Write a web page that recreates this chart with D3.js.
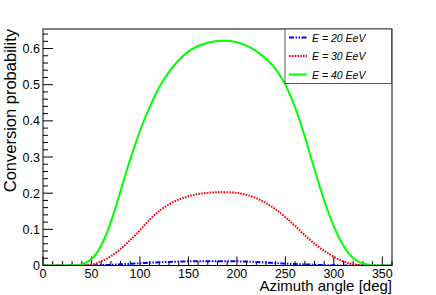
<!DOCTYPE html>
<html lang="en">
<head>
<meta charset="UTF-8">
<title>Conversion probability</title>
<script src="https://d3js.org/d3.v7.min.js"></script>
<style>
    body { margin: 0; background: #ffffff; }
    svg { display: block; font-family: "Liberation Sans", Arial, sans-serif; }
</style>
</head>
<body>
<div id="chart"></div>
<script>
    // azimuth angle samples (deg)
    const angles = d3.range(0, 361, 10);

    // conversion probability, one value per angle
    const e20 = [0, 0, 0, 0, 0, 0.0005, 0.001, 0.002, 0.003, 0.005, 0.006, 0.008, 0.009, 0.010, 0.011, 0.0115, 0.012, 0.012, 0.012,
                 0.012, 0.0115, 0.011, 0.010, 0.008, 0.007, 0.005, 0.004, 0.003, 0.002, 0.001, 0.0005, 0.0002, 0, 0, 0, 0, 0];
    const e30 = [0, 0, 0, 0, 0, 0.002, 0.010, 0.025, 0.045, 0.070, 0.097, 0.128, 0.152, 0.170, 0.183, 0.192, 0.198, 0.201, 0.203,
                 0.203, 0.201, 0.196, 0.187, 0.173, 0.156, 0.134, 0.110, 0.083, 0.060, 0.040, 0.024, 0.010, 0.003, 0.0005, 0, 0, 0];
    const e40 = [0, 0, 0, 0, 0.001, 0.014, 0.050, 0.117, 0.206, 0.296, 0.374, 0.440, 0.495, 0.537, 0.569, 0.593, 0.608, 0.617, 0.621,
                 0.622, 0.618, 0.609, 0.594, 0.573, 0.546, 0.503, 0.440, 0.360, 0.265, 0.178, 0.105, 0.050, 0.017, 0.004, 0, 0, 0];

    const seriesNames = ["E = 20 EeV", "E = 30 EeV", "E = 40 EeV"];
    const xTicks = [0, 50, 100, 150, 200, 250, 300, 350];
    const yTicks = [0, 0.1, 0.2, 0.3, 0.4, 0.5, 0.6];

    const width = 436, height = 295;
    const frame = { left: 43, right: 392, top: 29, bottom: 265.5 };

    const svg = d3.select("#chart").append("svg")
        .attr("width", width).attr("height", height);

    const x = d3.scaleLinear().domain([0, 360]).range([frame.left, frame.right]);
    const y = d3.scaleLinear().domain([0, 0.654]).range([frame.bottom, frame.top]);

    svg.append("clipPath").attr("id", "clip")
        .append("rect")
        .attr("x", frame.left).attr("y", frame.top - 2)
        .attr("width", frame.right - frame.left).attr("height", frame.bottom - frame.top + 2);

    // ticks drawn inside the frame, ROOT style
    const xMinor = d3.range(0, 361, 10).filter(v => v % 50 !== 0);
    const yMinor = d3.range(0, 0.654, 0.02).filter(v => Math.abs(v * 10 - Math.round(v * 10)) > 1e-6);

    const ticks = svg.append("g").attr("stroke", "#000").attr("stroke-width", 1);
    xTicks.forEach(v => ticks.append("line")
        .attr("x1", x(v)).attr("x2", x(v)).attr("y1", frame.bottom).attr("y2", frame.bottom - 9));
    xMinor.forEach(v => ticks.append("line")
        .attr("x1", x(v)).attr("x2", x(v)).attr("y1", frame.bottom).attr("y2", frame.bottom - 4.5));
    yTicks.forEach(v => ticks.append("line")
        .attr("x1", frame.left).attr("x2", frame.left + 10).attr("y1", y(v)).attr("y2", y(v)));
    yMinor.forEach(v => ticks.append("line")
        .attr("x1", frame.left).attr("x2", frame.left + 5).attr("y1", y(v)).attr("y2", y(v)));

    // tick labels
    svg.append("g").selectAll("text").data(xTicks).join("text")
        .attr("x", d => x(d)).attr("y", 278)
        .attr("text-anchor", "middle").attr("font-size", 12.5)
        .text(d => d);
    svg.append("g").selectAll("text").data(yTicks).join("text")
        .attr("x", 40).attr("y", d => y(d) + 4.5)
        .attr("text-anchor", "end").attr("font-size", 12.5)
        .text(d => d === 0 ? "0" : d3.format(".1f")(d));

    // axis titles
    svg.append("text")
        .attr("x", frame.right).attr("y", 291)
        .attr("text-anchor", "end").attr("font-size", 15)
        .text("Azimuth angle [deg]");
    svg.append("text")
        .attr("transform", `translate(16,${frame.top}) rotate(-90)`)
        .attr("text-anchor", "end").attr("font-size", 16.5)
        .text("Conversion probability");

    // curves
    const line = d3.line()
        .x((d, i) => x(angles[i]))
        .y(d => y(d))
        .curve(d3.curveBasis);

    const styles = [
        { data: e20, color: "#0000ff", dash: "5,1.5,1.5,1.5,1.5,1.5" },
        { data: e30, color: "#ff0000", dash: "1.6,1.2" },
        { data: e40, color: "#00ff00", dash: null }
    ];

    const curves = svg.append("g").attr("clip-path", "url(#clip)");
    styles.forEach(s => {
        curves.append("path")
            .attr("d", line(s.data))
            .attr("fill", "none")
            .attr("stroke", s.color)
            .attr("stroke-width", 2)
            .attr("stroke-dasharray", s.dash);
    });

    // frame
    svg.append("rect")
        .attr("x", frame.left).attr("y", frame.top)
        .attr("width", frame.right - frame.left).attr("height", frame.bottom - frame.top)
        .attr("fill", "none").attr("stroke", "#000").attr("stroke-width", 1);

    // legend
    const leg = { left: 285, top: 29, right: 391.5, bottom: 83.5 };
    svg.append("rect")
        .attr("x", leg.left).attr("y", leg.top)
        .attr("width", leg.right - leg.left).attr("height", leg.bottom - leg.top)
        .attr("fill", "#fff").attr("stroke", "#555").attr("stroke-width", 1);

    const rows = [37.5, 56, 74.5];
    styles.forEach((s, i) => {
        svg.append("line")
            .attr("x1", 289).attr("x2", 307)
            .attr("y1", rows[i]).attr("y2", rows[i])
            .attr("stroke", s.color).attr("stroke-width", 2)
            .attr("stroke-dasharray", s.dash);
        svg.append("text")
            .attr("x", 312).attr("y", rows[i] + 4)
            .attr("font-size", 10.5).attr("font-style", "italic")
            .text(seriesNames[i]);
    });
</script>
</body>
</html>
